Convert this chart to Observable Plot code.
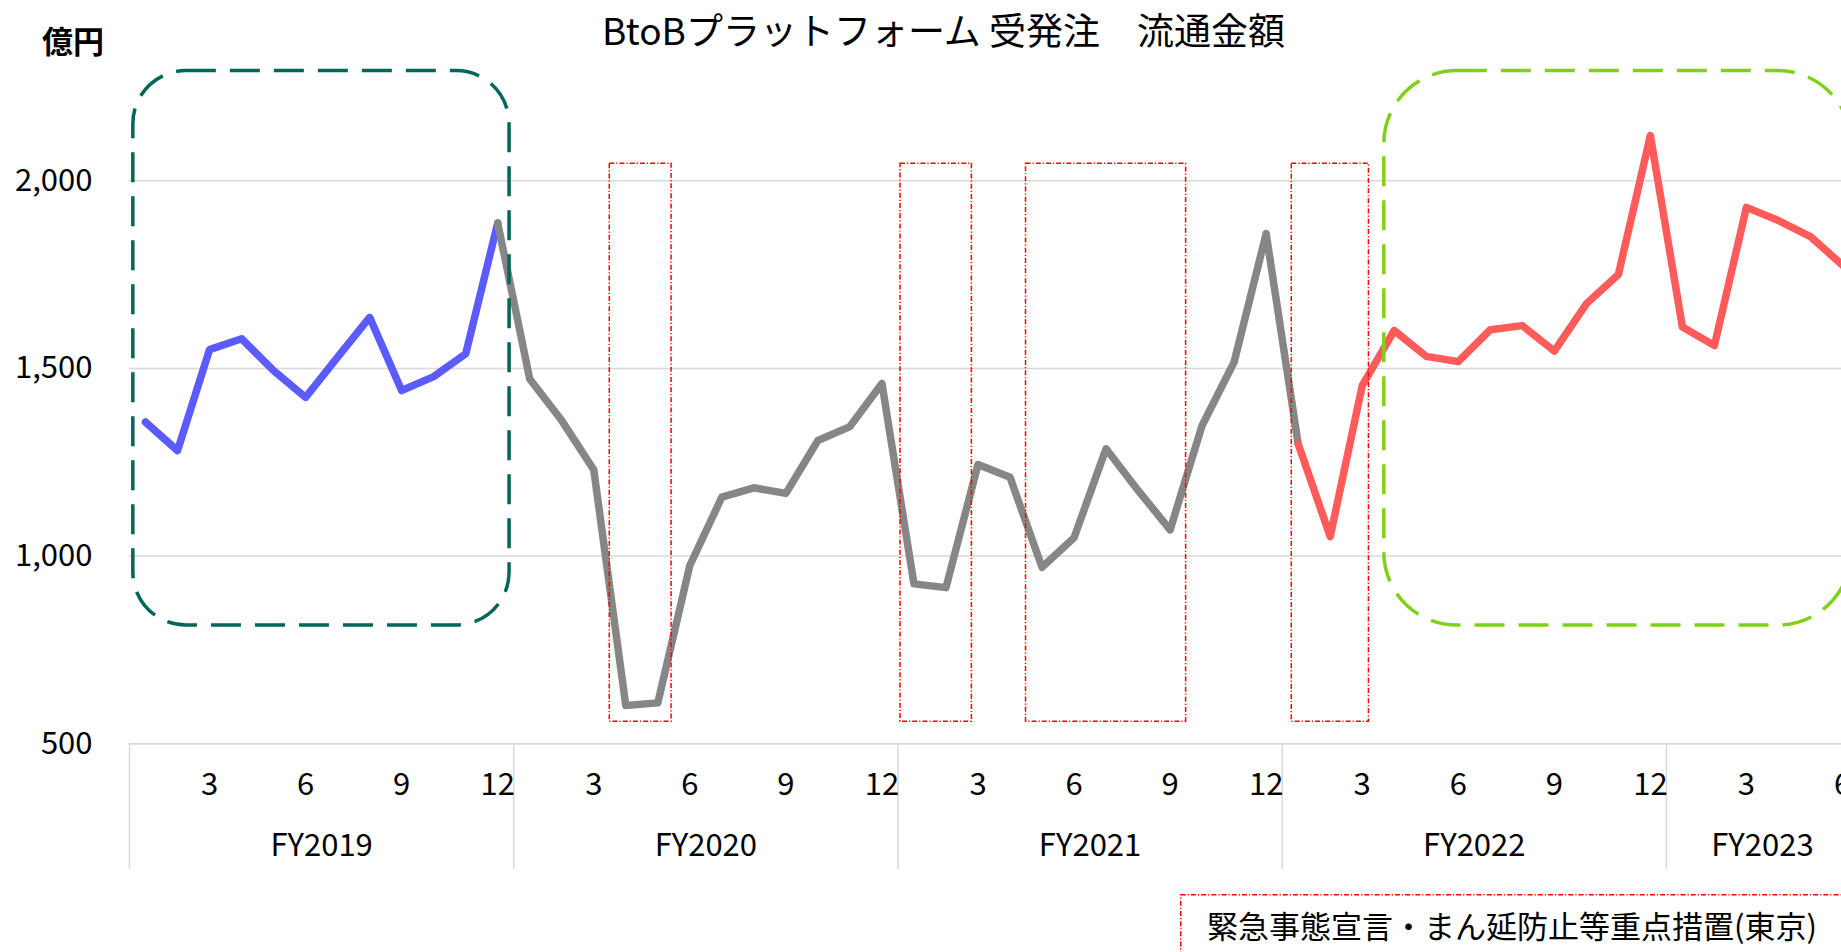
<!DOCTYPE html>
<html>
<head>
<meta charset="utf-8">
<script src="https://cdn.jsdelivr.net/npm/d3@7"></script>
<script src="https://cdn.jsdelivr.net/npm/@observablehq/plot@0.6"></script>
<style>
  html, body { margin: 0; padding: 0; background: #fff; width: 1841px; height: 952px; overflow: hidden; }
  #wrap { position: relative; width: 1841px; height: 952px; overflow: hidden; font-family: "Noto Sans CJK JP", sans-serif; color: #000; }
  #wrap svg.chart { position: absolute; left: 0; top: 0; }
  .title { position: absolute; left: 943.5px; top: 11px; transform: translateX(-50%); font-size: 37px; line-height: 37px; white-space: pre; }
  .unit { position: absolute; left: 42px; top: 24px; font-size: 31px; line-height: 31px; font-weight: bold; white-space: pre; }
  .legend { position: absolute; left: 1180px; top: 894px; width: 700px; height: 100px; }
  .legend svg { position: absolute; left: 0; top: 0; }
  .legend span { position: absolute; left: 27px; top: 15px; font-size: 31px; line-height: 31px; white-space: nowrap; }
</style>
</head>
<body>
<div id="wrap">
  <div class="title">BtoBプラットフォーム 受発注　流通金額</div>
  <div class="unit">億円</div>
  <div class="legend">
    <svg width="700" height="100"><rect x="0.75" y="0.75" width="698" height="98" fill="none" stroke="#ff0000" stroke-width="1.5" stroke-dasharray="5,2,1.2,2"></rect></svg>
    <span>緊急事態宣言・まん延防止等重点措置(東京)</span>
  </div>
</div>
<script>
// ---- data ----
const fiscalYears = ["FY2019", "FY2020", "FY2021", "FY2022", "FY2023"];
const monthsInFY = [12, 12, 12, 12, 6];
const monthTickLabels = [3, 6, 9, 12];
const yTicks = [500, 1000, 1500, 2000];
const yGrid = [1000, 1500, 2000];

const values2019 = [1357, 1281, 1550, 1579, 1494, 1423, 1530, 1636, 1441, 1478, 1539, 1887];
const values2020 = [1472, 1361, 1230, 602, 609, 975, 1157, 1182, 1167, 1308, 1345, 1460];
const values2021 = [926, 916, 1244, 1210, 970, 1049, 1286, 1175, 1070, 1348, 1517, 1859];
const values2022 = [1299, 1052, 1454, 1601, 1532, 1518, 1603, 1614, 1546, 1672, 1750, 2120];
const values2023 = [1610, 1561, 1929, 1894, 1851, 1775];

// emergency declaration / priority measures periods (month index from Jan 2019)
const emergencyPeriods = [
  {start: 15.0, end: 16.93},
  {start: 24.08, end: 26.31},
  {start: 28.0, end: 33.0},
  {start: 36.3, end: 38.71}
];
const emergencyRange = [559, 2045];

// highlighted periods (rounded dashed boxes)
const highlightPre = {start: 0.12, end: 11.87};
const highlightPost = {start: 39.19, end: 53.78};
const highlightRange = [815, 2292];

// ---- derived tables ----
const allValues = [values2019, values2020, values2021, values2022, values2023];
const monthly = [];
const groupStarts = [];
let offset = 0;
allValues.forEach((vals, k) => {
  groupStarts.push(offset);
  vals.forEach((v, m) => monthly.push({t: offset + m + 0.5, v}));
  offset += monthsInFY[k];
});
groupStarts.push(offset);
const totalMonths = offset;

const blueSeg = monthly.slice(0, 12);
const graySeg = monthly.slice(11, 37);
const redSeg = monthly.slice(36);

const monthTickData = [];
const fyLabelData = [];
fiscalYears.forEach((fy, k) => {
  const s = groupStarts[k];
  monthTickLabels.filter(m => m <= monthsInFY[k]).forEach(m => monthTickData.push({t: s + m - 0.5, label: String(m)}));
  fyLabelData.push({t: s + monthsInFY[k] / 2, label: fy});
});

const fmt = d3.format(",");
const lineOpts = {x: "t", y: "v", strokeWidth: 7.5, strokeLinejoin: "round", strokeLinecap: "round"};

const chart = Plot.plot({
  width: 1860,
  height: 952,
  marginLeft: 129,
  marginRight: 2,
  marginTop: 67.6,
  marginBottom: 208.7,
  x: {domain: [0, totalMonths], axis: null},
  y: {domain: [500, 2300], axis: null},
  style: {maxWidth: "none", overflow: "visible", fontFamily: "'Noto Sans CJK JP', sans-serif", background: "transparent", color: "#000"},
  marks: [
    Plot.ruleY(yGrid, {stroke: "#d9d9d9", strokeWidth: 1.5}),
    Plot.ruleY([500], {stroke: "#d9d9d9", strokeWidth: 1.8}),
    Plot.ruleX(groupStarts, {x: d => d, y1: () => 500, y2: () => 500, insetBottom: -126, stroke: "#d9d9d9", strokeWidth: 1.5}),
    Plot.text(yTicks, {y: d => d, frameAnchor: "left", dx: -37, textAnchor: "end", text: d => fmt(d), fontSize: 31, fill: "#000"}),
    Plot.text(monthTickData, {x: "t", y: () => 500, dy: 41, text: "label", fontSize: 31, fill: "#000"}),
    Plot.text(fyLabelData, {x: "t", y: () => 500, dy: 102, text: "label", fontSize: 31, fill: "#000"}),
    Plot.line(blueSeg, {...lineOpts, stroke: "#5b5bff"}),
    Plot.line(graySeg, {...lineOpts, stroke: "#868686"}),
    Plot.line(redSeg, {...lineOpts, stroke: "#ff5b5b"}),
    Plot.rect(emergencyPeriods, {x1: "start", x2: "end", y1: () => emergencyRange[0], y2: () => emergencyRange[1], fill: "none", stroke: "#ff0000", strokeWidth: 1.5, strokeDasharray: "5,2,1.2,2"}),
    Plot.rect([highlightPre], {x1: "start", x2: "end", y1: () => highlightRange[0], y2: () => highlightRange[1], fill: "none", stroke: "#00665a", strokeWidth: 3.5, strokeDasharray: "30,14", rx: 53, ry: 53}),
    Plot.rect([highlightPost], {x1: "start", x2: "end", y1: () => highlightRange[0], y2: () => highlightRange[1], fill: "none", stroke: "#80d01a", strokeWidth: 3.5, strokeDasharray: "30,14", rx: 73, ry: 73})
  ]
});
chart.classList.add("chart");
document.getElementById("wrap").prepend(chart);
</script>
</body>
</html>
